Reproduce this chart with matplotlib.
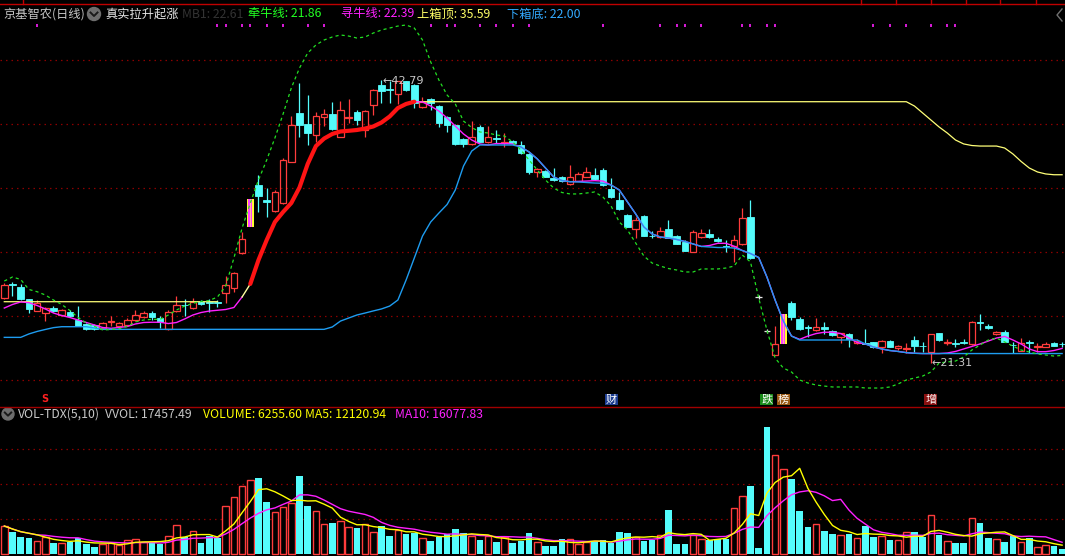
import numpy as np
import pandas as pd
import matplotlib
matplotlib.use('Agg')
import matplotlib.pyplot as plt
from matplotlib.patches import Rectangle, Circle
import matplotlib.transforms as mtransforms

plt.rcParams['font.family'] = ['Noto Sans CJK SC', 'DejaVu Sans']

# ---------------- data ----------------
opens = [26.24, 27.29, 27.08, 26.12, 25.26, 25.06, 25.48, 24.93, 25.18, 24.55,
         24.22, 24.17, 23.92, 24.43, 24.09, 24.17, 24.55, 24.75, 25.06, 24.72,
         23.87, 25.23, 25.71, 25.44, 25.94, 25.88, 25.88, 26.58, 26.96, 29.62,
         31.64, 34.81, 33.67, 32.86, 33.42, 36.58, 40.30, 39.45, 38.61, 39.96,
         40.21, 38.48, 39.94, 40.38, 38.99, 40.89, 42.41, 42.11, 41.70, 42.68,
         42.41, 40.72, 41.35, 40.81, 40.00, 39.37, 38.31, 37.90, 39.24, 38.06,
         38.38, 37.98, 38.15, 37.85, 37.17, 35.78, 35.87, 35.36, 35.39, 34.86,
         35.14, 35.44, 35.57, 35.95, 34.51, 33.67, 32.53, 31.44, 32.45, 30.97,
         30.88, 31.44, 30.96, 30.46, 29.74, 30.84, 31.09, 30.71, 30.14, 30.17,
         30.30, 32.40, 26.27, 23.73, 21.91, 22.73, 25.82, 24.60, 23.98, 23.79,
         24.04, 23.74, 23.28, 23.49, 22.78, 22.80, 22.85, 22.52, 22.95, 22.44,
         22.35, 23.03, 22.61, 22.14, 23.54, 22.84, 22.80, 22.88, 22.73, 24.36,
         24.12, 23.49, 23.66, 22.67, 22.22, 22.88, 22.47, 22.52, 22.78, 22.75]
highs = [27.36, 27.46, 27.29, 26.15, 26.07, 25.54, 25.61, 25.39, 25.31, 25.61,
         24.32, 24.25, 24.40, 24.85, 24.40, 24.70, 25.31, 25.23, 25.23, 24.85,
         25.31, 26.37, 26.15, 26.24, 26.07, 26.12, 26.07, 27.89, 28.20, 31.22,
         33.75, 35.57, 34.60, 34.43, 36.86, 40.05, 42.60, 41.65, 40.38, 40.56,
         41.14, 41.19, 41.32, 40.51, 40.51, 42.11, 42.79, 42.71, 42.71, 42.71,
         42.49, 41.48, 41.43, 40.89, 40.05, 39.45, 38.38, 39.67, 39.37, 39.29,
         38.99, 38.74, 38.23, 38.15, 37.24, 36.10, 35.95, 36.08, 35.49, 36.33,
         35.80, 36.16, 36.08, 36.10, 35.32, 34.30, 32.61, 32.40, 32.53, 31.34,
         31.59, 32.15, 31.01, 30.63, 31.39, 31.44, 31.44, 30.88, 30.63, 31.01,
         33.04, 33.67, 26.45, 23.87, 24.12, 25.01, 26.02, 24.80, 24.17, 24.68,
         24.42, 23.79, 23.56, 23.56, 23.08, 23.87, 22.87, 23.03, 23.03, 22.65,
         22.78, 23.33, 22.85, 23.48, 23.56, 23.11, 23.08, 23.11, 24.47, 25.01,
         24.24, 23.74, 23.79, 22.90, 23.16, 23.03, 22.78, 22.90, 22.90, 22.90]
lows = [26.15, 26.40, 26.07, 25.10, 25.23, 24.50, 25.16, 24.85, 24.78, 24.09,
        23.79, 23.79, 23.87, 24.12, 24.02, 24.09, 24.47, 24.70, 24.55, 23.96,
        23.79, 25.16, 24.85, 25.39, 25.69, 25.18, 25.56, 25.82, 26.70, 29.56,
        31.64, 32.78, 32.40, 32.75, 33.37, 36.56, 38.48, 37.85, 38.10, 39.32,
        38.99, 38.46, 39.50, 39.37, 38.48, 40.13, 41.02, 41.02, 40.94, 41.96,
        40.64, 40.66, 40.51, 39.24, 38.86, 37.85, 37.68, 37.85, 38.08, 38.00,
        37.98, 37.68, 37.96, 37.17, 35.65, 35.40, 35.42, 35.11, 35.04, 34.81,
        35.11, 35.42, 35.19, 34.76, 33.82, 32.91, 31.62, 30.76, 30.93, 30.76,
        30.76, 30.78, 30.29, 29.79, 29.72, 30.78, 30.78, 30.48, 29.74, 28.98,
        30.25, 29.19, 26.12, 23.56, 21.89, 22.73, 24.55, 23.79, 23.28, 23.72,
        23.49, 23.33, 22.78, 22.52, 22.73, 22.71, 22.40, 22.06, 22.47, 22.27,
        22.02, 22.14, 22.14, 21.31, 22.97, 22.65, 22.52, 22.73, 22.65, 23.79,
        23.87, 23.41, 22.88, 22.02, 22.19, 22.02, 22.14, 22.50, 22.58, 22.52]
closes = [27.21, 27.21, 26.12, 25.39, 25.82, 25.48, 25.26, 25.31, 24.85, 24.12,
          23.84, 23.87, 24.30, 24.47, 24.30, 24.55, 24.93, 25.10, 24.75, 24.42,
          25.18, 25.69, 25.67, 25.90, 25.74, 25.84, 25.84, 27.21, 28.10, 30.71,
          33.75, 33.97, 33.54, 34.25, 36.71, 39.37, 39.37, 38.74, 40.08, 40.21,
          39.07, 40.51, 39.98, 39.75, 40.43, 42.03, 41.98, 42.06, 42.71, 42.03,
          41.02, 41.14, 41.02, 39.50, 39.37, 37.90, 37.90, 38.44, 38.10, 38.44,
          38.34, 38.10, 38.03, 37.22, 35.82, 36.05, 35.44, 35.19, 35.11, 35.39,
          35.62, 35.80, 35.27, 34.81, 33.87, 32.96, 31.64, 32.15, 30.96, 30.93,
          31.34, 30.80, 30.33, 29.82, 31.22, 31.14, 30.84, 30.55, 30.10, 30.63,
          32.28, 29.24, 26.27, 23.73, 22.73, 25.01, 24.80, 23.84, 23.94, 24.04,
          23.84, 23.41, 23.54, 23.08, 22.95, 22.76, 22.52, 22.95, 22.52, 22.60,
          22.44, 22.60, 22.57, 23.46, 23.03, 22.88, 22.76, 22.84, 24.37, 24.32,
          23.92, 23.66, 22.90, 22.63, 22.78, 22.83, 22.60, 22.70, 22.60, 22.70]
volumes = [38360, 30140, 23290, 21920, 17400, 22880, 15070, 15070, 16030, 21510,
           13700, 9590, 13700, 15070, 12330, 18770, 20140, 16440, 16030, 13700,
           24660, 39320, 22880, 31100, 15070, 24660, 22330, 65350, 77680, 92750,
           100970, 104120, 71240, 57130, 63980, 69460, 106860, 65760, 58500, 40690,
           42470, 44800, 36580, 35620, 41100, 29730, 37950, 24660, 32470, 27400,
           29180, 21510, 17810, 23700, 26990, 34250, 28360, 24660, 19180, 24250,
           16440, 22880, 15070, 18220, 28770, 16440, 10960, 10960, 20550, 20550,
           14110, 16440, 17400, 19180, 15480, 30140, 28770, 22880, 17810, 19590,
           25620, 60280, 13700, 13700, 26440, 20550, 19450, 20550, 20550, 62610,
           79050, 93160, 8220, 173990, 135220, 116040, 102750, 58910, 36990, 40690,
           31510, 27400, 25620, 27400, 21510, 38360, 23290, 24250, 19180, 18770,
           29730, 29730, 23290, 53020, 26030, 17400, 15070, 15070, 48910, 42470,
           22310, 20530, 16830, 24090, 16420, 22290, 9180, 11920, 10960, 6255.6]

nan = np.nan
box_top = ([25.94] * 27 + [nan] * 23 + [41.14] * 61 +
           [40.81, 40.28, 39.75, 39.22, 38.76, 38.23, 37.93, 37.81, 37.77, 37.77,
            37.77, 37.62, 37.17, 36.60, 36.10, 35.80, 35.65, 35.59, 35.59])
box_bottom = ([23.23, 23.23, 23.23, 23.49, 23.68, 23.83, 23.97, 24.04, 24.04, 24.04,
               24.04, 23.94] + [23.84] * 28 +
              [24.02, 24.47, 24.70, 24.93, 25.08, 25.24, 25.39, 25.61, 26.07, 27.59,
               29.26, 30.93, 32.00, 32.68, 33.33, 34.43, 36.25, 37.39, 37.85, 37.85,
               37.85, 37.85, 37.85, 37.70, 37.32, 36.79, 36.10, 35.42, 35.15, 35.06,
               35.04, 35.00, 34.96, 34.94, 34.81, 34.43, 33.52, 32.61, 31.62, 31.09,
               30.86, 30.78, 30.67, 30.52, 30.33, 30.14, 30.10, 30.06, 30.06, 30.02,
               29.83, 29.60, 29.30, 27.82, 26.07, 24.47, 23.33] + [23.03] * 8 +
              [22.73, 22.50, 22.35, 22.23, 22.16, 22.07, 22.02] + [22.00] * 18)
seek_line = [25.46, 25.73, 25.92, 25.87, 25.65, 25.39, 25.08, 24.89, 24.74, 24.55,
             24.36, 24.17, 23.98, 23.92, 23.98, 24.06, 24.25, 24.36, 24.38, 24.38,
             24.28, 24.36, 24.63, 24.93, 25.12, 25.23, 25.29, 25.35, 25.50, 26.30,
             27.29, 29.11, 30.63, 32.00, 32.76, 33.44, 34.62, 36.41, 37.77, 38.34,
             38.69, 38.88, 38.93, 38.99, 39.10, 39.26, 39.56, 40.02, 40.66, 40.97,
             41.14, 41.12, 40.81, 40.43, 39.90, 39.29, 38.69, 38.23, 37.93, 37.85,
             37.96, 37.96, 37.93, 37.70, 37.32, 36.79, 36.10, 35.42, 35.15, 35.06,
             35.08, 35.11, 35.14, 35.11, 34.81, 34.43, 33.52, 32.61, 31.62, 31.09,
             30.86, 30.78, 30.67, 30.52, 30.33, 30.14, 30.21, 30.38, 30.38, 30.16,
             29.83, 29.60, 29.30, 27.82, 26.07, 24.47, 23.33, 23.08, 23.33, 23.52,
             23.62, 23.62, 23.52, 23.18, 22.84, 22.73, 22.50, 22.35, 22.23, 22.16,
             22.07, 22.02, 22.00, 22.00, 22.00, 22.04, 22.16, 22.35, 22.54, 22.73,
             22.95, 23.18, 23.30, 23.03, 22.73, 22.35, 22.14, 22.14, 22.23, 22.39]
pull_line = [27.51, 27.82, 27.63, 26.87, 26.70, 26.45, 26.07, 25.73, 25.27, 24.74,
             24.32, 24.06, 23.79, 23.83, 23.89, 24.06, 24.40, 24.55, 24.60, 24.60,
             24.93, 25.31, 25.61, 25.82, 25.96, 26.03, 26.30, 27.13, 29.26, 31.54,
             33.44, 35.19, 36.71, 38.38, 40.21, 42.18, 43.70, 44.84, 45.45, 45.83,
             46.06, 46.21, 46.13, 45.98, 46.06, 46.36, 46.59, 46.74, 46.89, 46.97,
             46.74, 45.83, 44.16, 42.79, 41.65, 40.97, 39.67, 39.18, 38.84, 38.76,
             38.61, 38.53, 38.08, 37.47, 36.71, 35.95, 35.19, 34.58, 34.24, 34.13,
             34.13, 34.20, 34.28, 33.90, 33.21, 32.00, 31.39, 30.40, 29.41, 28.88,
             28.65, 28.46, 28.35, 28.20, 28.20, 28.43, 28.43, 28.43, 28.50, 28.65,
             29.49, 28.96, 26.22, 23.79, 21.66, 20.90, 20.60, 19.99, 19.76, 19.61,
             19.53, 19.46, 19.46, 19.46, 19.46, 19.38, 19.38, 19.38, 19.46, 19.69,
             19.99, 20.14, 20.29, 20.60, 21.28, 21.36, 21.43, 21.74, 22.27, 22.65,
             23.03, 23.18, 22.88, 22.57, 22.27, 22.12, 21.97, 21.89, 21.81, 21.86]
limit_up_bars = [30, 95]
signal_bars = [4, 26, 27, 29, 30, 32, 34, 37, 39, 52, 54, 55, 58, 60, 62, 64,
               73, 80, 82, 83, 85, 90, 91, 93, 94, 106, 108, 110, 113, 115, 116]
main_grid = [20.00, 24.86, 29.73, 34.59, 39.45, 44.32]
vol_grid = [47950, 95900, 143850]
high_idx, high_val = 46, 42.79
low_idx, low_val = 113, 21.31
event_marks = [(74, '财', '#1c3c90'), (93, '跌', '#1a8a1a'), (95, '榜', '#9a5812'),
               (113, '增', '#8a1010')]

# ---------------- figure ----------------
W, H = 1065, 556
fig = plt.figure(figsize=(W / 100, H / 100), dpi=100, facecolor='black')

RED = '#ff3c3c'
CYAN = '#54fcfc'
n = len(closes)
x = np.arange(n)
O = np.array(opens); Hh = np.array(highs); L = np.array(lows); C = np.array(closes)

ax = fig.add_axes([0, 1 - 407 / H, 1, (407 - 4) / H])
ax.set_xlim(-0.524, 129.354)
ax.set_ylim(17.938, 48.566)
ax.axis('off')

for g in main_grid:
    ax.axhline(g, color='#8c0000', lw=0.9, ls=(0, (1.2, 3.2)), zorder=0)

bw = 0.8
for i in range(n):
    o, h, l, c = O[i], Hh[i], L[i], C[i]
    if i in limit_up_bars:
        cols = ['#ffff30', '#ff40ff', '#ffb0b0', '#ff40ff', '#ffff30']
        sw = bw / len(cols)
        for k, col in enumerate(cols):
            ax.add_patch(Rectangle((i - bw / 2 + k * sw, o), sw, c - o,
                                   facecolor=col, edgecolor='none', zorder=3))
    elif c > o:
        ax.vlines(i, c, h, color=RED, lw=0.9, zorder=2)
        ax.vlines(i, l, o, color=RED, lw=0.9, zorder=2)
        ax.add_patch(Rectangle((i - bw / 2, o), bw, c - o, fill=False,
                               edgecolor=RED, lw=0.9, zorder=3))
    elif c < o:
        ax.vlines(i, l, h, color=CYAN, lw=0.9, zorder=2)
        ax.add_patch(Rectangle((i - bw / 2, c), bw, o - c, facecolor=CYAN,
                               edgecolor=CYAN, lw=0.6, zorder=3))
    else:
        ax.vlines(i, l, h, color='#e8e8e8', lw=0.9, zorder=2)
        ax.hlines(o, i - bw / 2, i + bw / 2, color='#e8e8e8', lw=0.9, zorder=2)

seek = np.array(seek_line)
ax.plot(x, box_top, color='#ffff78', lw=0.9, zorder=4)
ax.plot(x[:30], seek[:30], color='#ff20ff', lw=1.0, zorder=4)
ax.plot(x[50:], seek[50:], color='#ff20ff', lw=1.0, zorder=4)
ax.plot(x, box_bottom, color='#1e9cf0', lw=1.0, zorder=5)
ax.plot(x[29:31], seek[29:31], color='#ffffa0', lw=1.0, zorder=5)
ax.plot(x[30:51], seek[30:51], color='#ff1414', lw=3.0, zorder=5,
        solid_capstyle='round')
ax.plot(x, pull_line, color='#22e022', lw=0.9, ls=(0, (2.5, 2.5)), zorder=5)

ax.text(high_idx + 0.1, high_val - 0.05, '\u2190' + f'{high_val:.2f}', color='#c8c8c8',
        fontsize=8, va='center', ha='left', family='DejaVu Sans', zorder=6)
ax.text(low_idx + 0.1, low_val, '\u2190' + f'{low_val:.2f}', color='#c8c8c8',
        fontsize=8, va='center', ha='left', family='DejaVu Sans', zorder=6)

# ---------------- volume panel ----------------
ax2 = fig.add_axes([0, 0, 1, (556 - 407) / H])
ax2.set_xlim(-0.524, 129.354)
ax2.set_ylim(-2740, 201390)
ax2.axis('off')
for g in vol_grid:
    ax2.axhline(g, color='#8c0000', lw=0.9, ls=(0, (1.2, 3.2)), zorder=0)
vol = np.array(volumes, dtype=float)
upv = C > O
ax2.bar(x[upv], vol[upv], width=0.8, facecolor='black', edgecolor=RED, lw=1.0, zorder=2)
ax2.bar(x[~upv], vol[~upv], width=0.8, color=CYAN, lw=0, zorder=2)
vs = pd.Series(vol)
ma5 = vs.rolling(5, min_periods=1).mean()
ma10 = vs.rolling(10, min_periods=1).mean()
ax2.plot(x, ma10, color='#ff20ff', lw=1.0, zorder=3)
ax2.plot(x, ma5, color='#ffff00', lw=1.0, zorder=3)

# ---------------- overlay (texts, frame) ----------------
ov = fig.add_axes([0, 0, 1, 1])
ov.set_xlim(0, W)
ov.set_ylim(H, 0)
ov.axis('off')
ov.patch.set_alpha(0)

ov.plot([0, W], [4, 4], color='#c00000', lw=1.0)
ov.plot([0, W], [407, 407], color='#a00000', lw=1.0)
for tx in [23, 861, 896, 931, 966, 1000, 1036]:
    ov.plot([tx, tx], [0, 4], color='#c00000', lw=1.0)

blend = mtransforms.blended_transform_factory(ax.transData, ov.transData)
ov.vlines(signal_bars, 23.5, 26.5, transform=blend, color='#ff20ff', lw=1.2)

fs = 8.8
ov.text(3, 14, '京基智农(日线)', color='#c8c8c8', fontsize=fs, va='center', ha='left')
ov.add_patch(Circle((94, 14), 6.5, color='#6e6e6e'))
ov.plot([90.5, 94, 97.5], [12.5, 16, 12.5], color='#1a1a1a', lw=1.4)
ov.text(105, 14, '真实拉升起涨', color='#e6e6e6', fontsize=fs, va='center', ha='left')
ov.text(182, 14, 'MB1: 22.61', color='#333333', fontsize=fs, va='center', ha='left')
ov.text(248, 14, '牵牛线: 21.86', color='#22ff22', fontsize=fs, va='center', ha='left')
ov.text(341, 14, '寻牛线: 22.39', color='#ff22ff', fontsize=fs, va='center', ha='left')
ov.text(417, 14, '上箱顶: 35.59', color='#ffff66', fontsize=fs, va='center', ha='left')
ov.text(507, 14, '下箱底: 22.00', color='#33aaff', fontsize=fs, va='center', ha='left')
ov.plot([1062, 1057, 1062], [9, 15, 21], color='#707070', lw=1.0)

ov.add_patch(Circle((8, 414), 6, color='#6e6e6e'))
ov.plot([4.8, 8, 11.2], [412.5, 415.7, 412.5], color='#1a1a1a', lw=1.4)
ov.text(18, 414, 'VOL-TDX(5,10)', color='#c8c8c8', fontsize=fs, va='center', ha='left')
ov.text(105, 414, 'VVOL: 17457.49', color='#c8c8c8', fontsize=fs, va='center', ha='left')
ov.text(203, 414, 'VOLUME: 6255.60', color='#ffff00', fontsize=fs, va='center', ha='left')
ov.text(305, 414, 'MA5: 12120.94', color='#ffff00', fontsize=fs, va='center', ha='left')
ov.text(395, 414, 'MA10: 16077.83', color='#ff22ff', fontsize=fs, va='center', ha='left')

for idx, ch, bg in event_marks:
    ov.text(idx, 399.5, ch, color='white', fontsize=8, ha='center', va='center',
            transform=blend,
            bbox=dict(boxstyle='square,pad=0.08', fc=bg, ec='none'))
ov.text(5, 399, 'S', color='#ff2020', fontsize=7, fontweight='bold', ha='center',
        va='center', transform=blend, family='DejaVu Sans')

fig.savefig('out.png', dpi=100, facecolor='black')
